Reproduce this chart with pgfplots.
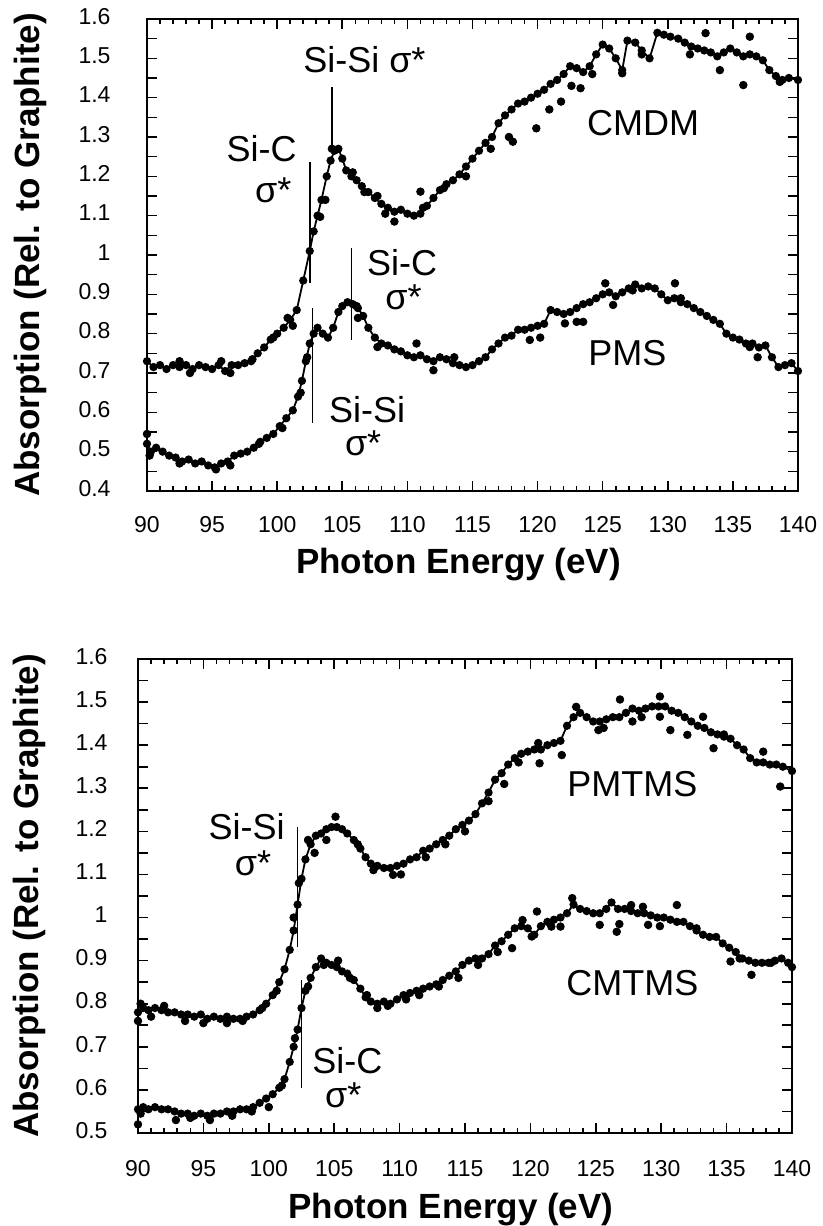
\documentclass[border=0pt]{standalone}
\usepackage{fontspec}
\setmainfont{Liberation Sans}
\usepackage{pgfplots}
\usepackage{pgfplotstable}
\pgfplotsset{compat=1.18}

% ---- top panel: CMDM and PMS ----
\pgfplotstableread{
x y
90.0 0.73
90.5 0.715
91.0 0.72
91.5 0.71
92.0 0.72
92.5 0.715
93.0 0.72
93.5 0.71
94.0 0.72
94.5 0.715
95.0 0.71
95.5 0.72
96.0 0.705
96.5 0.72
97.0 0.72
97.5 0.725
98.0 0.73
98.5 0.75
99.0 0.765
99.5 0.785
100.0 0.80
100.5 0.815
101.0 0.835
101.5 0.86
102.0 0.935
102.5 1.01
102.8 1.06
103.1 1.10
103.4 1.14
103.8 1.20
104.1 1.24
104.4 1.265
104.7 1.27
105.0 1.245
105.3 1.215
105.7 1.20
106.1 1.19
106.5 1.175
107.0 1.16
107.5 1.145
108.0 1.13
108.5 1.12
109.0 1.11
109.5 1.115
110.0 1.105
110.5 1.10
111.0 1.105
111.5 1.125
112.0 1.145
112.5 1.165
113.0 1.18
113.5 1.19
114.0 1.205
114.5 1.225
115.0 1.245
115.5 1.265
116.0 1.285
116.5 1.30
117.0 1.335
117.5 1.355
118.0 1.37
118.5 1.385
119.0 1.39
119.5 1.40
120.0 1.41
120.5 1.42
121.0 1.435
121.5 1.445
122.0 1.46
122.5 1.48
123.0 1.475
123.5 1.465
124.0 1.48
124.5 1.51
125.0 1.535
125.5 1.525
126.0 1.50
126.5 1.47
126.9 1.545
127.5 1.54
128.0 1.52
128.6 1.50
129.2 1.565
129.7 1.56
130.2 1.555
130.8 1.55
131.3 1.54
131.8 1.53
132.3 1.525
132.8 1.52
133.3 1.515
133.8 1.505
134.3 1.515
134.8 1.525
135.3 1.515
135.8 1.505
136.3 1.51
136.8 1.505
137.3 1.495
137.8 1.47
138.3 1.455
138.8 1.445
139.3 1.45
140.0 1.445
}\cmdmline

\pgfplotstableread{
x y
92.5 0.73
93.3 0.70
95.7 0.73
96.4 0.70
98.1 0.735
99.7 0.79
100.8 0.84
101.2 0.82
103.3 1.097
103.7 1.14
104.2 1.27
105.8 1.21
106.7 1.16
107.7 1.15
108.3 1.105
109.0 1.085
111.0 1.161
111.2 1.12
112.8 1.17
114.5 1.20
116.4 1.27
117.8 1.30
118.1 1.288
119.9 1.322
120.9 1.37
121.8 1.39
122.6 1.43
123.3 1.424
124.2 1.46
126.5 1.462
128.0 1.51
131.7 1.51
132.9 1.564
134.0 1.47
135.8 1.432
136.3 1.555
138.6 1.44
}\cmdmdots

\pgfplotstableread{
x y
90.0 0.52
90.3 0.50
90.7 0.51
91.2 0.50
91.7 0.49
92.2 0.485
92.7 0.475
93.2 0.48
93.7 0.47
94.2 0.475
94.7 0.465
95.2 0.46
95.7 0.47
96.2 0.475
96.7 0.49
97.2 0.495
97.7 0.50
98.2 0.51
98.7 0.525
99.2 0.535
99.7 0.545
100.2 0.565
100.7 0.585
101.2 0.605
101.6 0.64
101.9 0.68
102.2 0.73
102.5 0.775
102.8 0.80
103.1 0.815
103.5 0.80
103.9 0.79
104.3 0.815
104.7 0.855
105.0 0.87
105.4 0.88
105.8 0.875
106.2 0.865
106.6 0.845
107.0 0.815
107.5 0.79
108.0 0.775
108.5 0.77
109.0 0.76
109.5 0.755
110.0 0.745
110.5 0.74
111.0 0.745
111.5 0.735
112.0 0.73
112.5 0.74
113.0 0.735
113.5 0.725
114.0 0.72
114.5 0.715
115.0 0.72
115.5 0.73
116.0 0.74
116.5 0.76
117.0 0.775
117.5 0.79
118.0 0.795
118.5 0.81
119.0 0.81
119.5 0.815
120.0 0.82
120.5 0.825
121.0 0.86
121.5 0.855
122.0 0.85
122.5 0.855
123.0 0.865
123.5 0.875
124.0 0.88
124.5 0.89
125.0 0.90
125.5 0.905
126.0 0.895
126.5 0.905
127.0 0.915
127.5 0.925
128.0 0.915
128.5 0.92
129.0 0.915
129.5 0.90
130.0 0.885
130.5 0.89
131.0 0.88
131.5 0.875
132.0 0.865
132.5 0.855
133.0 0.845
133.5 0.835
134.0 0.825
134.5 0.80
135.0 0.79
135.5 0.785
136.0 0.775
136.5 0.775
137.0 0.765
137.5 0.77
138.0 0.74
138.5 0.715
139.0 0.72
139.5 0.725
140.0 0.705
}\pmsline

\pgfplotstableread{
x y
90.0 0.545
90.2 0.49
92.5 0.47
95.3 0.455
96.4 0.465
98.6 0.52
100.4 0.56
101.8 0.65
102.3 0.74
106.1 0.87
106.2 0.84
107.7 0.766
110.7 0.775
112.0 0.707
113.6 0.74
119.4 0.784
120.2 0.79
122.1 0.826
123.0 0.83
123.5 0.83
125.2 0.928
125.8 0.873
127.3 0.91
130.55 0.928
131.0 0.89
136.3 0.766
136.9 0.74
}\pmsdots

% ---- bottom panel: PMTMS and CMTMS ----
\pgfplotstableread{
x y
90.0 0.78
90.4 0.79
90.8 0.785
91.3 0.79
91.8 0.785
92.3 0.78
92.8 0.78
93.3 0.775
93.8 0.775
94.3 0.77
94.8 0.775
95.3 0.765
95.8 0.77
96.3 0.765
96.8 0.77
97.3 0.765
97.8 0.765
98.3 0.77
98.8 0.775
99.3 0.785
99.8 0.80
100.3 0.82
100.8 0.85
101.2 0.88
101.6 0.925
101.9 0.97
102.2 1.03
102.5 1.09
102.8 1.135
103.2 1.17
103.6 1.19
104.0 1.195
104.4 1.205
104.8 1.21
105.2 1.21
105.6 1.205
106.0 1.195
106.5 1.18
107.0 1.16
107.4 1.14
107.8 1.125
108.3 1.12
108.8 1.115
109.3 1.115
109.8 1.12
110.3 1.125
110.8 1.135
111.3 1.14
111.8 1.155
112.3 1.16
112.8 1.17
113.3 1.18
113.8 1.19
114.3 1.205
114.8 1.215
115.3 1.225
115.8 1.24
116.3 1.265
116.8 1.29
117.3 1.32
117.8 1.335
118.3 1.355
118.8 1.37
119.3 1.38
119.8 1.385
120.3 1.39
120.8 1.39
121.3 1.40
121.8 1.405
122.3 1.41
122.8 1.445
123.3 1.465
123.8 1.475
124.3 1.465
124.8 1.455
125.3 1.455
125.8 1.46
126.3 1.465
126.8 1.465
127.3 1.475
127.8 1.485
128.3 1.48
128.8 1.485
129.3 1.49
129.8 1.49
130.3 1.49
130.8 1.48
131.3 1.475
131.8 1.465
132.3 1.455
132.8 1.445
133.3 1.44
133.8 1.43
134.3 1.425
134.8 1.425
135.3 1.415
135.8 1.40
136.3 1.39
136.8 1.37
137.3 1.36
137.8 1.36
138.3 1.355
138.8 1.355
139.3 1.35
140.0 1.34
}\pmtmsline

\pgfplotstableread{
x y
90.0 0.76
90.2 0.80
91.0 0.77
92.0 0.795
93.6 0.76
95.0 0.755
96.8 0.755
98.0 0.76
99.5 0.79
100.6 0.83
101.9 1.0
102.3 1.08
103.0 1.18
103.5 1.15
104.4 1.18
105.1 1.234
106.8 1.17
108.0 1.11
109.5 1.099
110.1 1.10
112.0 1.14
113.5 1.17
115.0 1.20
116.8 1.27
118.0 1.31
119.1 1.36
120.6 1.405
120.7 1.358
122.4 1.377
123.5 1.489
125.2 1.435
125.6 1.44
126.85 1.506
127.8 1.455
128.5 1.465
129.9 1.513
129.9 1.466
130.7 1.435
132.0 1.424
133.2 1.466
134.0 1.393
134.8 1.42
137.8 1.385
139.1 1.304
}\pmtmsdots

\pgfplotstableread{
x y
90.0 0.555
90.4 0.56
90.8 0.555
91.3 0.56
91.8 0.555
92.3 0.555
92.8 0.55
93.3 0.545
93.8 0.545
94.3 0.54
94.8 0.545
95.3 0.54
95.8 0.545
96.3 0.545
96.8 0.55
97.3 0.55
97.8 0.555
98.3 0.555
98.8 0.56
99.3 0.57
99.8 0.58
100.3 0.59
100.8 0.605
101.2 0.625
101.6 0.665
101.9 0.70
102.2 0.74
102.5 0.79
102.8 0.83
103.2 0.86
103.6 0.885
104.0 0.905
104.4 0.895
104.8 0.89
105.2 0.885
105.6 0.875
106.0 0.87
106.5 0.855
107.0 0.835
107.4 0.815
107.8 0.805
108.3 0.80
108.8 0.805
109.3 0.80
109.8 0.81
110.3 0.82
110.8 0.825
111.3 0.83
111.8 0.835
112.3 0.84
112.8 0.845
113.3 0.855
113.8 0.865
114.3 0.875
114.8 0.89
115.3 0.90
115.8 0.905
116.3 0.905
116.8 0.915
117.3 0.935
117.8 0.945
118.3 0.96
118.8 0.975
119.3 0.98
119.8 0.975
120.3 0.96
120.8 0.98
121.3 0.99
121.8 0.995
122.3 1.0
122.8 1.01
123.3 1.03
123.8 1.02
124.3 1.015
124.8 1.01
125.3 1.01
125.8 1.02
126.2 1.035
126.7 1.02
127.2 1.02
127.7 1.015
128.2 1.01
128.7 1.01
129.2 1.005
129.7 1.0
130.2 1.0
130.7 0.995
131.2 0.99
131.7 0.99
132.2 0.98
132.7 0.97
133.2 0.96
133.7 0.955
134.2 0.955
134.7 0.94
135.2 0.93
135.7 0.92
136.2 0.905
136.7 0.9
137.2 0.895
137.7 0.895
138.2 0.895
138.7 0.9
139.2 0.905
139.7 0.895
140.0 0.885
}\cmtmsline

\pgfplotstableread{
x y
90.0 0.52
90.2 0.545
92.9 0.53
94.0 0.535
95.5 0.53
97.2 0.54
98.7 0.55
100.0 0.56
101.0 0.61
102.0 0.72
103.0 0.84
104.2 0.89
105.3 0.90
106.2 0.86
107.5 0.82
108.3 0.79
109.1 0.795
110.5 0.81
111.5 0.82
113.0 0.84
114.5 0.86
116.0 0.89
117.5 0.92
118.6 0.929
119.4 0.994
120.1 0.956
120.5 1.014
121.6 0.979
122.3 0.979
123.2 1.045
125.3 0.983
126.6 0.967
126.8 0.985
127.7 1.029
128.6 1.025
129.0 0.983
129.9 0.98
131.2 1.029
132.7 0.975
135.3 0.898
136.0 0.905
136.9 0.867
138.4 0.895
}\cmtmsdots

\newcommand\annfont{\fontsize{18}{20}\selectfont}
\newcommand\labfont{\fontsize{17.5}{20}\selectfont\bfseries}

\tikzset{ann/.style={font=\annfont, inner sep=0pt}}

\pgfplotsset{
  spec/.style={
    scale only axis, width=325.5pt, height=236pt,
    xmin=90, xmax=140,
    xtick={90,95,100,105,110,115,120,125,130,135,140},
    xticklabels={90,95,100,105,110,115,120,125,130,135,140},
    minor x tick num=4,
    major tick length=5pt, minor tick length=2.5pt,
    axis line style={line width=1pt},
    every tick/.append style={black, line width=0.8pt},
    tick label style={font=\fontsize{11.5}{13}\selectfont},
    typeset ticklabels with strut,
    xlabel={Photon Energy (eV)},
    ylabel={Absorption (Rel. to Graphite)},
  },
  curve/.style={black, line width=0.9pt, mark=*, mark size=1.6pt, mark options={solid}},
  dots/.style={black, only marks, mark=*, mark size=1.9pt},
  marker/.style={black, line width=0.8pt, mark=none},
}

\begin{document}
\begin{tikzpicture}
\path[use as bounding box] (0,0) rectangle (411.5pt,613pt);

% top panel
\begin{axis}[spec,
  at={(73.5pt,367.5pt)}, anchor=south west,
  ymin=0.4, ymax=1.6,
  ytick={0.4,0.45,0.5,0.55,0.6,0.65,0.7,0.75,0.8,0.85,0.9,0.95,1,1.05,1.1,1.15,1.2,1.25,1.3,1.35,1.4,1.45,1.5,1.55,1.6},
  yticklabels={0.4,,0.5,,0.6,,0.7,,0.8,,0.9,,1,,1.1,,1.2,,1.3,,1.4,,1.5,,1.6},
  xticklabel style={yshift=-8pt},
  yticklabel style={xshift=-14.7pt},
  every axis x label/.style={at={(rel axis cs:0.5,0)}, anchor=center, yshift=-37pt, xshift=-7pt, font=\labfont},
  every axis y label/.style={at={(rel axis cs:0,0.5)}, xshift=-58.5pt, rotate=90, anchor=center, font=\labfont},
]
\addplot[curve] table[x=x,y=y] {\cmdmline};
\addplot[dots] table[x=x,y=y] {\cmdmdots};
\addplot[curve] table[x=x,y=y] {\pmsline};
\addplot[dots] table[x=x,y=y] {\pmsdots};
\addplot[marker] coordinates {(104.2,1.267) (104.2,1.427)};
\addplot[marker] coordinates {(102.5,0.93) (102.5,1.236)};
\addplot[marker] coordinates {(105.7,0.784) (105.7,1.018)};
\addplot[marker] coordinates {(102.7,0.573) (102.7,0.865)};
\node[ann] at (axis cs:106.7,1.496) {Si-Si σ*};
\node[ann] at (axis cs:98.8,1.27) {Si-C};
\node[ann] at (axis cs:99.7,1.165) {σ*};
\node[ann] at (axis cs:109.6,0.98) {Si-C};
\node[ann] at (axis cs:109.7,0.893) {σ*};
\node[ann] at (axis cs:106.9,0.606) {Si-Si};
\node[ann] at (axis cs:106.6,0.52) {σ*};
\node[ann] at (axis cs:128.1,1.335) {CMDM};
\node[ann] at (axis cs:126.9,0.75) {PMS};
\end{axis}

% bottom panel
\begin{axis}[spec,
  at={(69pt,46.5pt)}, anchor=south west,
  width=327pt, height=237pt,
  ymin=0.5, ymax=1.6,
  ytick={0.5,0.55,0.6,0.65,0.7,0.75,0.8,0.85,0.9,0.95,1,1.05,1.1,1.15,1.2,1.25,1.3,1.35,1.4,1.45,1.5,1.55,1.6},
  yticklabels={0.5,,0.6,,0.7,,0.8,,0.9,,1,,1.1,,1.2,,1.3,,1.4,,1.5,,1.6},
  xticklabel style={yshift=-9pt},
  yticklabel style={xshift=-11.7pt},
  every axis x label/.style={at={(rel axis cs:0.5,0)}, anchor=center, yshift=-38.5pt, xshift=-7pt, font=\labfont},
  every axis y label/.style={at={(rel axis cs:0,0.5)}, xshift=-54.5pt, rotate=90, anchor=center, font=\labfont},
]
\addplot[curve] table[x=x,y=y] {\pmtmsline};
\addplot[dots] table[x=x,y=y] {\pmtmsdots};
\addplot[curve] table[x=x,y=y] {\cmtmsline};
\addplot[dots] table[x=x,y=y] {\cmtmsdots};
\addplot[marker] coordinates {(102.2,0.932) (102.2,1.21)};
\addplot[marker] coordinates {(102.5,0.605) (102.5,0.855)};
\node[ann] at (axis cs:98.3,1.21) {Si-Si};
\node[ann] at (axis cs:98.8,1.127) {σ*};
\node[ann] at (axis cs:106.0,0.668) {Si-C};
\node[ann] at (axis cs:105.7,0.588) {σ*};
\node[ann] at (axis cs:127.8,1.31) {PMTMS};
\node[ann] at (axis cs:127.8,0.848) {CMTMS};
\end{axis}
\end{tikzpicture}
\end{document}
